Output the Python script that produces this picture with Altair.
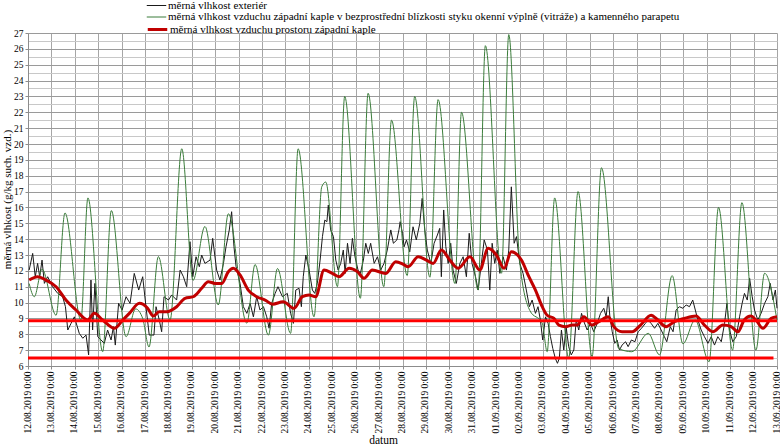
import altair as alt
import pandas as pd

# ---- data (day offset from 12.08.2019 0:00, g/kg) ----
names = [
    "měrná vlhkost exteriér",
    "měrná vlhkost vzduchu západní kaple v bezprostřední blízkosti styku okenní výplně (vitráže) a kamenného parapetu",
    "měrná vlhkost vzduchu prostoru západní kaple",
]

ext_day = [0.05, 0.2, 0.31, 0.41, 0.5, 0.6, 0.7, 0.84, 1.05, 1.27, 1.48, 1.6, 1.7, 1.84, 1.98, 2.19, 2.34, 2.48, 2.59, 2.69,
           2.76, 2.86, 2.98, 3.12, 3.26, 3.4, 3.55, 3.65, 3.73, 3.87, 4.02, 4.19, 4.36, 4.54, 4.73, 4.9, 5.04, 5.18, 5.33, 5.38,
           5.47, 5.61, 5.71, 5.81, 6.0, 6.14, 6.35, 6.5, 6.64, 6.78, 6.92, 7.04, 7.18, 7.32, 7.42, 7.56, 7.78, 7.89, 8.06, 8.2,
           8.35, 8.46, 8.6, 8.7, 8.8, 8.89, 9.06, 9.2, 9.35, 9.49, 9.63, 9.77, 9.91, 10.06, 10.2, 10.3, 10.41, 10.56, 10.68, 10.87,
           11.08, 11.22, 11.34, 11.44, 11.58, 11.68, 11.76, 11.87, 12.01, 12.15, 12.25, 12.36, 12.48, 12.58, 12.68, 12.77, 12.83, 12.93, 13.05, 13.15,
           13.25, 13.36, 13.47, 13.55, 13.65, 13.76, 13.86, 13.97, 14.1, 14.2, 14.33, 14.43, 14.54, 14.64, 14.79, 14.93, 15.07, 15.21, 15.35, 15.5,
           15.61, 15.76, 15.85, 15.9, 16.0, 16.07, 16.17, 16.31, 16.45, 16.59, 16.74, 16.84, 16.95, 17.06, 17.21, 17.35, 17.49, 17.59, 17.66, 17.76,
           17.85, 17.95, 18.06, 18.16, 18.3, 18.45, 18.59, 18.73, 18.85, 18.97, 19.12, 19.23, 19.37, 19.49, 19.63, 19.73, 19.83, 19.94, 20.05, 20.16,
           20.3, 20.44, 20.54, 20.65, 20.77, 20.87, 21.01, 21.15, 21.29, 21.42, 21.54, 21.68, 21.79, 21.89, 21.99, 22.11, 22.22, 22.32, 22.42, 22.53,
           22.62, 22.7, 22.79, 22.89, 22.99, 23.1, 23.21, 23.32, 23.42, 23.53, 23.65, 23.75, 23.89, 24.03, 24.17, 24.32, 24.46, 24.6, 24.7, 24.79,
           24.86, 24.96, 25.07, 25.17, 25.27, 25.38, 25.53, 25.64, 25.78, 25.93, 26.07, 26.21, 26.38, 26.48, 26.62, 26.77, 26.91, 27.05, 27.19, 27.29,
           27.44, 27.56, 27.69, 27.83, 27.98, 28.12, 28.26, 28.4, 28.51, 28.62, 28.76, 28.9, 29.05, 29.19, 29.33, 29.47, 29.62, 29.76, 29.86, 29.97,
           30.11, 30.26, 30.4, 30.51, 30.61, 30.73, 30.83, 30.94, 31.04, 31.18, 31.32, 31.47, 31.61, 31.71, 31.83, 31.93, 32.0]
ext_val = [12.05, 13.1, 11.63, 12.47, 11.63, 12.68, 11.21, 11.63, 11.0, 10.58, 10.37, 9.74, 8.27, 8.69, 9.1, 8.06, 7.75, 7.95, 6.7, 11.42,
           8.27, 11.21, 7.85, 7.64, 7.43, 8.27, 7.64, 8.48, 7.32, 9.95, 9.53, 10.37, 9.95, 11.84, 10.79, 11.63, 9.74, 7.95, 7.95, 7.95,
           9.74, 8.9, 8.16, 10.37, 10.16, 10.48, 10.16, 12.05, 11.63, 11.0, 13.84, 11.63, 12.89, 12.26, 13.0, 12.47, 12.68, 14.05, 12.05, 11.42,
           12.47, 13.52, 14.58, 15.73, 13.52, 12.26, 11.21, 9.74, 9.32, 9.95, 9.1, 10.37, 9.53, 9.74, 9.1, 8.38, 9.95, 10.58, 11.0, 10.37,
           10.58, 9.32, 8.69, 10.79, 10.9, 9.74, 11.63, 13.0, 12.05, 10.79, 10.58, 11.21, 12.68, 14.16, 15.2, 15.1, 16.15, 14.58, 14.16, 12.68,
           12.05, 12.47, 13.31, 11.84, 13.74, 12.47, 14.05, 12.89, 12.05, 11.84, 12.68, 13.74, 13.1, 13.74, 12.47, 12.89, 12.05, 12.47, 13.31, 14.58,
           13.74, 13.95, 14.6, 15.1, 14.37, 13.52, 13.95, 13.2, 14.78, 13.95, 15.0, 16.57, 14.58, 13.31, 12.47, 13.74, 14.26, 14.68, 11.63, 15.84,
           13.52, 12.47, 13.74, 12.05, 11.21, 12.47, 12.89, 11.63, 14.37, 12.47, 11.63, 10.79, 12.47, 13.95, 13.31, 10.79, 13.74, 12.47, 13.31, 11.84,
           12.89, 12.05, 13.31, 17.3, 13.74, 14.16, 12.47, 11.84, 10.79, 9.74, 10.16, 9.32, 9.74, 8.9, 7.64, 9.1, 8.69, 7.85, 7.11, 6.48,
           6.17, 6.48, 8.27, 7.01, 8.48, 7.22, 6.7, 7.01, 8.9, 8.27, 9.32, 8.8, 8.27, 8.69, 8.16, 8.69, 9.32, 9.64, 9.1, 10.37,
           9.1, 8.16, 7.43, 7.64, 7.01, 7.32, 7.53, 7.22, 7.64, 7.53, 8.16, 8.38, 8.69, 8.9, 8.69, 8.38, 8.69, 8.27, 7.85, 7.53,
           8.48, 8.16, 9.53, 9.74, 9.64, 9.85, 9.74, 10.16, 9.53, 8.9, 8.27, 7.85, 7.43, 7.85, 7.32, 7.85, 7.53, 8.69, 9.95, 8.27,
           7.53, 7.85, 9.1, 9.95, 10.58, 10.16, 11.53, 10.37, 9.53, 8.9, 9.32, 9.95, 10.37, 11.21, 10.16, 10.79, 9.64]

win_day = [0.05, 0.27, 0.6, 1.2, 1.58, 2.26, 2.56, 3.19, 3.56, 4.19, 4.6, 4.9, 5.17, 5.57, 6.07, 6.57, 7.05, 7.56, 8.13, 8.56,
           9.35, 9.7, 10.27, 10.66, 11.22, 11.54, 12.22, 12.55, 12.72, 13.22, 13.53, 14.2, 14.53, 15.2, 15.53, 16.2, 16.52, 17.17, 17.52, 18.24,
           18.52, 19.23, 19.54, 20.23, 20.54, 21.0, 21.44, 21.97, 22.18, 22.5, 23.1, 23.5, 24.1, 24.5, 25.24, 25.8, 26.5, 26.98, 27.52, 27.98,
           28.5, 29.1, 29.5, 30.1, 30.5, 31.1, 31.47, 32.0]
win_val = [11.2, 10.37, 12.1, 9.2, 15.65, 8.9, 16.6, 6.9, 15.8, 7.85, 9.6, 9.0, 7.2, 12.9, 8.9, 19.7, 11.4, 14.8, 9.85, 15.6,
           8.7, 12.4, 7.95, 12.15, 8.06, 19.7, 9.1, 17.3, 17.6, 11.0, 23.0, 10.27, 23.2, 11.0, 21.5, 11.7, 23.0, 11.6, 22.8, 11.2,
           22.0, 10.8, 26.2, 11.85, 26.9, 12.7, 9.5, 8.7, 6.9, 16.6, 6.5, 17.0, 6.6, 18.5, 7.1, 6.9, 8.06, 6.7, 11.7, 7.4,
           8.9, 6.27, 16.0, 7.0, 16.3, 7.0, 11.85, 8.9]

room_day = [0.05, 0.41, 0.77, 1.2, 1.62, 2.05, 2.55, 2.83, 3.19, 3.69, 4.05, 4.33, 4.76, 5.11, 5.35, 5.6, 5.93, 6.35, 6.71, 7.06,
            7.42, 7.7, 7.99, 8.28, 8.56, 8.77, 9.06, 9.41, 9.77, 10.13, 10.45, 10.9, 11.37, 11.72, 12.01, 12.29, 12.65, 13.0, 13.29, 13.72,
            14.07, 14.36, 14.71, 15.29, 15.71, 16.05, 16.24, 16.67, 17.02, 17.31, 17.66, 18.02, 18.38, 18.88, 19.3, 19.66, 20.01, 20.34, 20.65, 21.08,
            21.4, 21.68, 21.97, 22.18, 22.47, 22.68, 22.97, 23.25, 23.46, 23.75, 24.1, 24.39, 24.79, 25.03, 25.38, 25.81, 26.17, 26.62, 26.91, 27.26,
            27.62, 28.04, 28.54, 28.9, 29.26, 29.69, 30.04, 30.33, 30.6, 30.89, 31.1, 31.4, 31.75, 32.0]
room_val = [11.42, 11.63, 11.42, 11.0, 10.16, 9.53, 8.9, 9.32, 8.9, 8.38, 8.9, 9.32, 9.95, 9.64, 9.15, 9.42, 9.42, 9.74, 10.27, 10.37,
            10.9, 11.32, 11.21, 11.21, 11.95, 12.16, 11.74, 10.79, 10.37, 10.16, 9.9, 10.05, 9.64, 10.37, 10.48, 10.37, 12.05, 11.84, 11.63, 12.16,
            11.95, 11.53, 12.05, 11.84, 12.58, 12.4, 12.26, 12.89, 12.68, 12.47, 13.31, 12.68, 12.16, 12.89, 12.05, 13.42, 13.0, 12.16, 13.2, 12.68,
            11.63, 10.79, 9.74, 9.2, 9.0, 8.58, 8.48, 8.58, 8.58, 9.1, 8.58, 8.8, 9.1, 8.48, 8.16, 8.16, 8.58, 9.2, 8.9, 8.48,
            8.8, 9.0, 9.15, 8.58, 8.16, 8.58, 8.48, 8.16, 8.9, 9.15, 8.9, 8.38, 9.0, 9.1]

limit_val = [8.85, 6.5]
limit_start = [0, 0]
limit_end = [32, 31.85]

day_ticks = list(range(0, 33))
y_ticks = [6 + 0.5 * i for i in range(43)]

series_colors = ["#1a1a1a", "#3b7d3b", "#c00000"]
series_widths = [1, 1, 3]

# ---- tables ----
ext_df = pd.DataFrame({"day": ext_day, "val": ext_val, "series": names[0]})
win_df = pd.DataFrame({"day": win_day, "val": win_val, "series": names[1]})
room_df = pd.DataFrame({"day": room_day, "val": room_val, "series": names[2]})
lim_df = pd.DataFrame({"start": limit_start, "end": limit_end, "val": limit_val})

FONT = "Liberation Serif"

xscale = alt.Scale(domain=[0, 32], nice=False, zero=False)
yscale = alt.Scale(domain=[6, 27], nice=False, zero=False)

x_axis = alt.Axis(
    values=day_ticks,
    labelExpr="timeFormat(datetime(2019, 7, 12 + datum.value), '%d.%m.%Y') + ' 0:00'",
    labelAngle=-90,
    labelFont=FONT, labelFontSize=9.5, labelColor="#000",
    labelPadding=2, labelOverlap=False, labelFlush=False, labelOffset=-1,
    tickSize=3, tickColor="#8c8c8c",
    domainColor="#8c8c8c",
    grid=True, gridColor="#a6a6a6", gridWidth=1,
    title="datum", titleFont=FONT, titleFontSize=11.5, titleFontWeight="normal",
    titleColor="#000", titleX=355, titleY=68, titleBaseline="top",
)
y_axis = alt.Axis(
    values=y_ticks,
    format=".0f",
    labelExpr="datum.value % 1 === 0 ? datum.label : ''",
    labelFont=FONT, labelFontSize=9.5, labelColor="#000", labelPadding=2,
    labelFlush=False,
    tickSize=3,
    tickColor={"condition": {"test": "datum.value % 1 === 0", "value": "#8c8c8c"}, "value": "transparent"},
    grid=True,
    gridColor={"condition": {"test": "datum.value % 1 === 0", "value": "#9a9a9a"}, "value": "#c8c8c8"},
    domainColor="#8c8c8c",
    title="měrná vlhkost (g/kg such. vzd.)", titleFont=FONT, titleFontSize=11,
    titleFontWeight="normal", titleColor="#000",
    titleX=-21, titleY=166, titleBaseline="middle",
)


def series_layer(df, i, interp):
    return alt.Chart(df).mark_line(interpolate=interp, strokeWidth=series_widths[i]).encode(
        x=alt.X("day:Q", scale=xscale, axis=x_axis),
        y=alt.Y("val:Q", scale=yscale, axis=y_axis),
        color=alt.Color(
            "series:N",
            scale=alt.Scale(domain=[names[i]], range=[series_colors[i]]),
            legend=alt.Legend(
                orient="none", legendX=118, legendY=-38 + 11.5 * i, title=None,
                labelFont=FONT, labelFontSize=11, labelColor="#000", labelLimit=800,
                symbolType="stroke", symbolSize=380, symbolStrokeWidth=series_widths[i],
                labelOffset=1,
            ),
        ),
    )


ext_layer = series_layer(ext_df, 0, "linear")
win_layer = series_layer(win_df, 1, "monotone")
room_layer = series_layer(room_df, 2, "monotone")

lim_layer = alt.Chart(lim_df).mark_rule(color="#ff0000", strokeWidth=3).encode(
    x=alt.X("start:Q", scale=xscale, axis=x_axis),
    x2="end:Q",
    y=alt.Y("val:Q", scale=yscale, axis=y_axis),
)

chart = alt.layer(ext_layer, win_layer, room_layer, lim_layer).resolve_scale(
    color="independent"
).properties(
    width=749,
    height=333,
    autosize=alt.AutoSizeParams(type="none"),
    padding={"left": 28, "top": 33, "right": 3, "bottom": 81},
    background="white",
).configure(font=FONT).configure_view(strokeWidth=0)

chart.save("out.html", embed_options={"renderer": "svg", "actions": False})
